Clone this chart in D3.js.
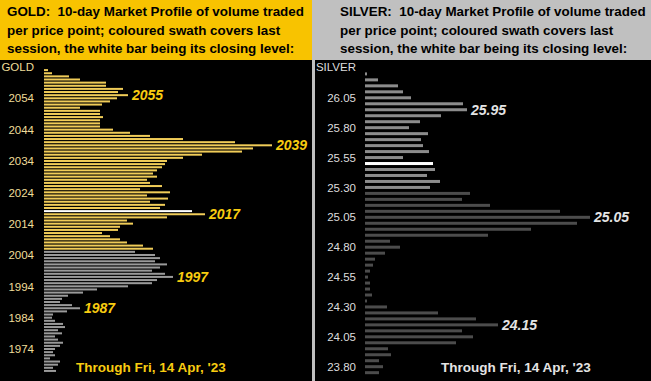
<!DOCTYPE html>
<html>
<head>
<meta charset="utf-8">
<script src="https://cdn.jsdelivr.net/npm/d3@7"></script>
<style>
  body { margin: 0; background: #000; }
  svg { display: block; font-family: "Liberation Sans", Arial, sans-serif; }
</style>
</head>
<body>
<div id="chart"></div>
<script>
// GOLD: one bar per $1 price point, top to bottom
var goldPrices = d3.range(2063, 1966, -1);
var goldVolume = [
  4, 8, 25, 36, 62, 62, 79, 74, 84, 73,
  66, 58, 36, 56, 56, 59, 56, 56, 56, 69,
  86, 106, 139, 191, 228, 209, 198, 158, 139, 123,
  121, 118, 113, 109, 113, 103, 106, 118, 96, 126,
  103, 124, 106, 121, 116, 148, 161, 123, 83, 89,
  76, 74, 58, 66, 76, 83, 99, 109, 91, 111,
  116, 111, 123, 116, 108, 121, 129, 113, 108, 84,
  53, 39, 24, 18, 16, 28, 36, 23, 9, 8,
  11, 19, 21, 14, 18, 11, 14, 19, 16, 11,
  9, 11, 6, 16, 14, 9, 12
];
var goldSession = [2006, 2063];
var goldClose = 2018;
var goldTicks = [2054, 2044, 2034, 2024, 2014, 2004, 1994, 1984, 1974];
var goldPeaks = [2055, 2039, 2017, 1997, 1987];

// SILVER: one bar per 5 cents
var silverPrices = d3.range(2625, 2370, -5).map(function(d) { return d / 100; });
var silverVolume = [
  2, 13, 33, 38, 46, 98, 102, 76, 55, 44,
  63, 56, 58, 64, 38, 68, 70, 62, 75, 65,
  105, 97, 125, 195, 225, 212, 166, 123, 25, 35,
  20, 10, 8, 5, 3, 5, 5, 7, 2, 22,
  73, 111, 133, 97, 108, 91, 23, 26, 14, 18,
  14
];
var silverSession = [25.30, 26.25];
var silverClose = 25.50;
var silverTicks = [26.05, 25.80, 25.55, 25.30, 25.05, 24.80, 24.55, 24.30, 24.05, 23.80];
var silverPeaks = [25.95, 25.05, 24.15];

var headerLines = ["10-day Market Profile of volume traded",
  "per price point; coloured swath covers last",
  "session, the white bar being its closing level:"];
var throughText = "Through Fri, 14 Apr, '23";

var W = 651, H = 381;
var svg = d3.select("#chart").append("svg").attr("width", W).attr("height", H);

function drawPanel(o) {
  var g = svg.append("g");
  g.append("rect").attr("x", o.x0).attr("y", 0).attr("width", o.x1 - o.x0).attr("height", H).attr("fill", o.headBg);
  g.append("rect").attr("x", o.plotX).attr("y", 60).attr("width", o.x1 - o.plotX).attr("height", H - 60).attr("fill", "#000");

  // header
  var lines = [o.name + ":  " + headerLines[0], headerLines[1], headerLines[2]];
  g.selectAll("text.head").data(lines).enter().append("text")
    .attr("class", "head")
    .attr("x", o.headX)
    .attr("y", function(d, i) { return 16 + i * 18.7; })
    .style("white-space", "pre")
    .style("font-size", "13.4px")
    .style("font-weight", "bold")
    .style("fill", "#000")
    .text(function(d) { return d; });

  var y = d3.scaleLinear().domain(o.yDomain).range(o.yRange);
  var x = d3.scaleLinear().domain([0, o.maxVol]).range([o.barX, o.barX + o.maxLen]);

  var rows = o.prices.map(function(p, i) { return {p: p, v: o.volume[i]}; });
  function colour(d) {
    if (Math.abs(d.p - o.close) < 1e-6) return "#ffffff";
    if (d.p >= o.session[0] - 1e-6 && d.p <= o.session[1] + 1e-6) return o.swath;
    return o.rest;
  }
  g.selectAll("rect.bar").data(rows).enter().append("rect")
    .attr("class", "bar")
    .attr("x", x(0))
    .attr("y", function(d) { return y(d.p) - o.barH / 2; })
    .attr("width", function(d) { return x(d.v) - x(0); })
    .attr("height", o.barH)
    .attr("fill", colour);

  // axis
  var axis = g.append("g").attr("transform", "translate(" + o.axisX + ",0)")
    .call(d3.axisLeft(y).tickValues(o.ticks).tickFormat(o.fmt).tickSize(0).tickPadding(0));
  axis.select(".domain").remove();
  axis.selectAll("text").style("font-size", "11.5px").style("font-family", "Liberation Sans, Arial, sans-serif")
    .style("fill", o.tickCol);
  g.append("text").attr("x", o.axisX).attr("y", 71).attr("text-anchor", "end")
    .style("font-size", "11.5px").style("fill", o.tickCol).text(o.name);

  // peak labels
  g.selectAll("text.peak").data(o.peaks).enter().append("text")
    .attr("class", "peak")
    .attr("x", function(p) { var i = o.prices.findIndex(function(q) { return Math.abs(q - p) < 1e-6; }); return x(o.volume[i]) + 4; })
    .attr("y", function(p) { return y(p) + 5; })
    .style("font-size", "14px").style("font-weight", "bold").style("font-style", "italic")
    .style("fill", o.peakCol)
    .text(function(p) { return o.fmt(p); });

  g.append("text").attr("x", o.throughX).attr("y", 372)
    .style("font-size", "13.5px").style("font-weight", "bold").style("fill", o.peakCol)
    .text(throughText);
}

drawPanel({
  name: "GOLD", x0: 0, x1: 312, plotX: 0, headBg: "#f8c300", headX: 7,
  prices: goldPrices, volume: goldVolume, session: goldSession, close: goldClose,
  ticks: goldTicks, peaks: goldPeaks, fmt: d3.format("d"),
  yDomain: [1974, 2054], yRange: [349, 98.3],
  barX: 44, maxVol: 228, maxLen: 228, barH: 2,
  swath: "#f0cc58", rest: "#9a9a9a", tickCol: "#eedd99", peakCol: "#f8cc10",
  axisX: 34, throughX: 76
});

drawPanel({
  name: "SILVER", x0: 312, x1: 651, plotX: 315, headBg: "#c0c0c0", headX: 340,
  prices: silverPrices, volume: silverVolume, session: silverSession, close: silverClose,
  ticks: silverTicks, peaks: silverPeaks, fmt: d3.format(".2f"),
  yDomain: [23.80, 26.05], yRange: [366.7, 97.8],
  barX: 365, maxVol: 225, maxLen: 225, barH: 3,
  swath: "#8c8c8c", rest: "#4c4c4c", tickCol: "#dddddd", peakCol: "#e4e4e4",
  axisX: 356, throughX: 441
});
</script>
</body>
</html>
